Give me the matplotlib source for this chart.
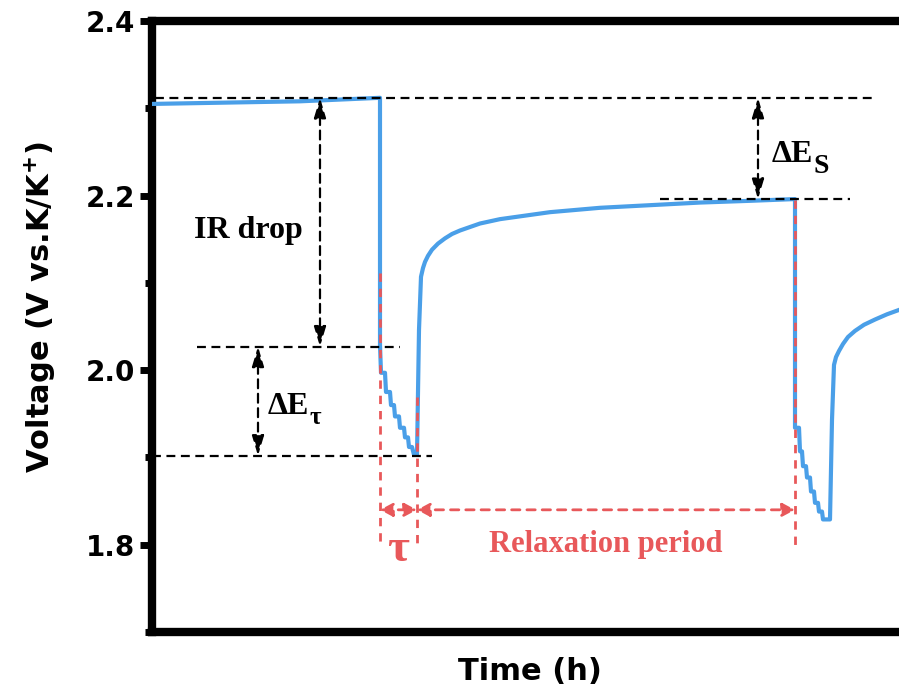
import matplotlib
matplotlib.use("Agg")
import matplotlib.pyplot as plt
from matplotlib.ticker import MultipleLocator

# voltage profile, split by phase
rest_t = [0.00, 0.98, 1.48, 2.28]
rest_v = [2.305, 2.307, 2.308, 2.312]
pulse1_t = [2.28, 2.29, 2.33, 2.34, 2.38, 2.39, 2.42, 2.43, 2.47, 2.48, 2.52, 2.53, 2.56, 2.57, 2.60, 2.62, 2.65]
pulse1_v = [2.029, 1.997, 1.997, 1.975, 1.975, 1.960, 1.960, 1.947, 1.947, 1.934, 1.934, 1.923, 1.923, 1.912, 1.912, 1.903, 1.903]
relax_t = [2.67, 2.69, 2.71, 2.73, 2.76, 2.80, 2.86, 2.93, 3.00, 3.08, 3.18, 3.28, 3.48, 3.73, 3.98, 4.48, 4.98, 5.48, 5.98, 6.43]
relax_v = [2.046, 2.107, 2.117, 2.124, 2.131, 2.138, 2.145, 2.151, 2.156, 2.160, 2.164, 2.168, 2.173, 2.177, 2.181, 2.186, 2.189, 2.192, 2.194, 2.196]
pulse2_t = [6.43, 6.47, 6.48, 6.50, 6.51, 6.54, 6.55, 6.58, 6.59, 6.62, 6.63, 6.66, 6.67, 6.70, 6.71, 6.78]
pulse2_v = [1.934, 1.934, 1.907, 1.907, 1.890, 1.890, 1.877, 1.877, 1.861, 1.861, 1.848, 1.848, 1.838, 1.838, 1.829, 1.829]
relax2_t = [6.80, 6.82, 6.84, 6.87, 6.91, 6.96, 7.03, 7.12, 7.23, 7.35, 7.47]
relax2_v = [1.943, 2.006, 2.015, 2.022, 2.030, 2.038, 2.045, 2.052, 2.058, 2.064, 2.069]

time_h = rest_t + pulse1_t + relax_t + pulse2_t + relax2_t
voltage = rest_v + pulse1_v + relax_v + pulse2_v + relax2_v

# reference levels (V) and event times (h)
v_rest = 2.312
v_relaxed = 2.196
v_after_ir = 2.027
v_end_pulse = 1.902
t_pulse_on = 2.28
t_pulse_off = 2.65
t_next_pulse = 6.43

BLUE = "#4a9fe8"
RED = "#e8585a"
SERIF = "Liberation Serif"

fig = plt.figure(figsize=(8.99, 7.0), dpi=100)
ax = fig.add_axes([152 / 899, 0.0971, 800 / 899, 0.8729])
ax.set_xlim(0, 8)
ax.set_ylim(1.7, 2.4)

ax.plot(time_h, voltage, color=BLUE, lw=3, solid_joinstyle="round", zorder=3)

dash_k = dict(color="black", lw=1.6, ls=(0, (4, 2.5)), zorder=4)
ax.plot([0.03, 7.23], [v_rest, v_rest], **dash_k)
ax.plot([5.08, 6.98], [v_relaxed, v_relaxed], **dash_k)
ax.plot([0.45, 2.48], [v_after_ir, v_after_ir], **dash_k)
ax.plot([0.00, 2.80], [v_end_pulse, v_end_pulse], **dash_k)

dash_r = dict(color=RED, lw=2, ls=(0, (3, 2.5)), zorder=4)
ax.plot([t_pulse_on, t_pulse_on], [2.111, 1.80], **dash_r)
ax.plot([t_pulse_off, t_pulse_off], [1.969, 1.80], **dash_r)
ax.plot([t_next_pulse, t_next_pulse], [2.195, 1.80], **dash_r)


def double_arrow(x0, y0, x1, y1, color, lw, ls, head):
    ax.annotate("", xy=(x1, y1), xytext=(x0, y0),
                arrowprops=dict(arrowstyle=f"<|-|>,head_length={head[0]},head_width={head[1]}",
                                color=color, lw=lw, ls=ls, shrinkA=0, shrinkB=0),
                zorder=5)


double_arrow(1.68, v_rest, 1.68, v_after_ir, "black", 1.6, (0, (4, 2.5)), (1.2, 0.36))
double_arrow(1.06, v_after_ir, 1.06, v_end_pulse, "black", 1.6, (0, (4, 2.5)), (1.2, 0.36))
double_arrow(6.06, v_rest, 6.06, v_relaxed, "black", 1.6, (0, (4, 2.5)), (1.2, 0.36))
double_arrow(t_pulse_on, 1.840, t_pulse_off, 1.840, RED, 2, (0, (3, 2.5)), (0.75, 0.4))
double_arrow(t_pulse_off, 1.840, t_next_pulse, 1.840, RED, 2, (0, (3, 2.5)), (0.75, 0.4))

ax.text(0.96, 2.160, "IR drop", family=SERIF, weight="bold", fontsize=23, ha="center", va="center")

t1 = ax.text(1.16, 1.958, "ΔE", family=SERIF, weight="bold", fontsize=23, ha="left", va="center")
ax.annotate("τ", xy=(1.0, 0.12), xycoords=t1, family=SERIF, weight="bold", fontsize=18,
            ha="left", va="center")
t2 = ax.text(6.20, 2.247, "ΔE", family=SERIF, weight="bold", fontsize=23, ha="left", va="center")
ax.annotate("S", xy=(1.0, 0.10), xycoords=t2, family=SERIF, weight="bold", fontsize=20,
            ha="left", va="center")

ax.text(2.46, 1.794, "τ", family=SERIF, weight="bold", fontsize=34, color=RED, ha="center", va="center")
ax.text(4.54, 1.800, "Relaxation period", family=SERIF, weight="bold", fontsize=22,
        color=RED, ha="center", va="center")

for side in ["left", "top", "bottom"]:
    ax.spines[side].set_linewidth(6)
ax.spines["right"].set_visible(False)

ax.set_xticks([])
ax.set_yticks([1.8, 2.0, 2.2, 2.4])
ax.yaxis.set_minor_locator(MultipleLocator(0.1))
ax.tick_params(axis="y", which="major", direction="out", length=9, width=5, pad=3, labelsize=20)
ax.tick_params(axis="y", which="minor", direction="out", length=5, width=5)
for lab in ax.get_yticklabels():
    lab.set_fontweight("bold")

fig.text(40 / 899, 1 - 307 / 700, r"Voltage (V vs.K/K$^{\mathbf{+}}$)", rotation=90,
         fontsize=22, weight="bold", ha="center", va="center")
fig.text(530 / 899, 1 - 672 / 700, "Time (h)", fontsize=22, weight="bold", ha="center", va="center")

fig.savefig("out.png", dpi=100)
